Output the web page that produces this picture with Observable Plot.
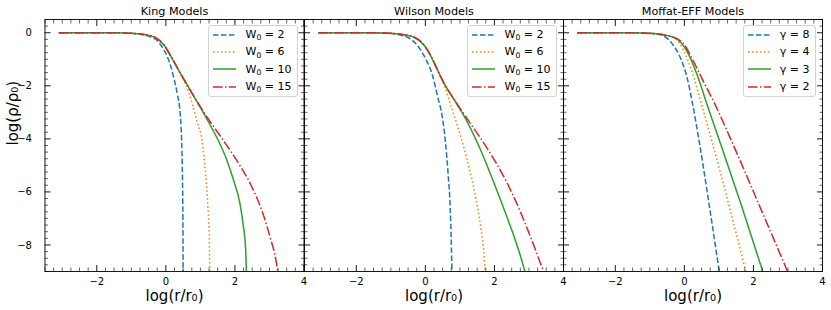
<!DOCTYPE html>
<html>
<head>
<meta charset="utf-8">
<script src="https://cdn.jsdelivr.net/npm/d3@7"></script>
<script src="https://cdn.jsdelivr.net/npm/@observablehq/plot@0.6"></script>
<style>
  body { margin: 0; background: #fff; }
  #chart { position: relative; width: 831px; height: 310px; font-family: "DejaVu Sans", sans-serif; overflow: hidden; }
  #chart svg.panel { position: absolute; top: 0; }
  .legend { position: absolute; top: 25px; background: rgba(255,255,255,0.8); border: 1px solid #d3d3d3; border-radius: 3px;
            font-size: 11px; padding: 0 5px 1px 4px; color: #000; }
  .legend .row { display: flex; align-items: center; height: 17.3px; white-space: nowrap; }
  .legend svg { display: block; margin-right: 9px; }
  .legend sub { font-size: 0.7em; vertical-align: baseline; position: relative; top: 0.3em; line-height: 0; }
</style>
</head>
<body>
<div id="chart"></div>
<script>
// ---------- data ----------
const panelTitles = ["King Models", "Wilson Models", "Moffat-EFF Models"];
const kingParams = [2, 6, 10, 15];     // W0
const wilsonParams = [2, 6, 10, 15];   // W0
const moffatParams = [8, 4, 3, 2];     // gamma

const xMajorTicks = [-2, 0, 2, 4];
const xTickLabels = ["−2", "0", "2", "4"];
const yMajorTicks = [0, -2, -4, -6, -8];
const yTickLabels = ["0", "−2", "−4", "−6", "−8"];
const xDomain = [-3.5, 4];
const yDomain = [-9, 0.5];

// King models  [log(r/r0), log(rho/rho0)]
const king_W2 = [[-3.1,0],[-1.5,0],[-1.0,-0.02],[-0.7,-0.07],[-0.45,-0.15],[-0.25,-0.3],[-0.1,-0.55],[0.05,-0.92],[0.15,-1.3],[0.23,-1.7],[0.33,-2.3],[0.41,-3.0],[0.455,-4.0],[0.475,-5.0],[0.49,-6.5],[0.5,-9]];
const king_W6 = [[-3.1,0],[-1.5,0],[-1.0,-0.02],[-0.6,-0.07],[-0.3,-0.18],[-0.06,-0.45],[0.18,-0.97],[0.4,-1.5],[0.57,-1.95],[0.77,-2.7],[0.91,-3.39],[1.05,-4.09],[1.15,-5.35],[1.22,-6.62],[1.26,-7.88],[1.27,-9]];
const king_W10 = [[-3.1,0],[-1.5,0],[-1.0,-0.02],[-0.6,-0.07],[-0.3,-0.18],[-0.06,-0.45],[0.18,-0.97],[0.43,-1.55],[0.7,-2.15],[0.9,-2.6],[1.1,-3.05],[1.3,-3.52],[1.54,-4.12],[1.78,-4.85],[1.97,-5.6],[2.14,-6.4],[2.24,-7.25],[2.31,-8.14],[2.33,-9]];
const king_W15 = [[-3.1,0],[-1.5,0],[-1.0,-0.02],[-0.6,-0.07],[-0.3,-0.18],[-0.06,-0.45],[0.18,-0.97],[0.43,-1.55],[0.7,-2.15],[0.9,-2.58],[1.1,-3.0],[1.39,-3.55],[1.68,-4.09],[2.07,-4.85],[2.46,-5.73],[2.79,-6.74],[3.03,-7.76],[3.18,-8.52],[3.24,-9]];

// Wilson models
const wilson_W2 = [[-3.1,0],[-1.5,0],[-1.0,-0.03],[-0.75,-0.08],[-0.52,-0.17],[-0.23,-0.48],[0.01,-0.99],[0.21,-1.62],[0.35,-2.38],[0.5,-3.26],[0.58,-4.1],[0.66,-5.35],[0.72,-6.62],[0.75,-7.88],[0.77,-9]];
const wilson_W6 = [[-3.1,0],[-1.5,0],[-1.0,-0.02],[-0.6,-0.08],[-0.32,-0.17],[-0.03,-0.48],[0.16,-0.88],[0.35,-1.4],[0.55,-2.0],[0.74,-2.76],[0.93,-3.52],[1.1,-4.25],[1.27,-5.1],[1.46,-6.24],[1.61,-7.38],[1.7,-8.39],[1.73,-9]];
const wilson_W10 = [[-3.1,0],[-1.5,0],[-1.0,-0.02],[-0.6,-0.08],[-0.32,-0.17],[-0.03,-0.48],[0.16,-0.88],[0.35,-1.4],[0.55,-1.93],[0.8,-2.45],[1.0,-2.88],[1.2,-3.33],[1.4,-3.85],[1.6,-4.42],[1.8,-5.05],[2.0,-5.7],[2.2,-6.38],[2.4,-7.08],[2.6,-7.8],[2.75,-8.4],[2.88,-9]];
const wilson_W15 = [[-3.1,0],[-1.5,0],[-1.0,-0.02],[-0.6,-0.08],[-0.32,-0.17],[-0.03,-0.48],[0.16,-0.88],[0.35,-1.4],[0.55,-1.93],[0.8,-2.45],[1.0,-2.84],[1.2,-3.22],[1.4,-3.6],[1.6,-3.98],[1.8,-4.38],[2.0,-4.8],[2.2,-5.25],[2.4,-5.75],[2.6,-6.3],[2.8,-6.9],[3.0,-7.55],[3.2,-8.22],[3.35,-8.75],[3.43,-9]];

// Moffat-EFF models
const moffat_g8 = [[-3.1,0],[-1.5,0],[-1.0,-0.02],[-0.64,-0.1],[-0.35,-0.42],[-0.1,-0.99],[0.09,-1.75],[0.23,-2.63],[0.43,-4.1],[0.72,-6.5],[1.01,-9]];
const moffat_g4 = [[-3.1,0],[-1.5,0],[-1.0,-0.02],[-0.6,-0.08],[-0.25,-0.23],[0,-0.74],[0.23,-1.5],[0.48,-2.63],[0.8,-4.1],[1.3,-6.55],[1.78,-9]];
const moffat_g3 = [[-3.1,0],[-1.5,0],[-1.0,-0.02],[-0.6,-0.08],[-0.2,-0.25],[0.14,-0.86],[0.38,-1.62],[0.67,-2.76],[1.03,-4.12],[1.65,-6.5],[2.27,-9]];
const moffat_g2 = [[-3.1,0],[-1.5,0],[-1.0,-0.03],[-0.5,-0.1],[-0.06,-0.36],[0.23,-0.99],[0.52,-1.75],[0.91,-2.76],[1.4,-4.18],[2.2,-6.6],[2.99,-9]];

// ---------- styling ----------
const seriesColors = ["#1f77b4", "#ff7f0e", "#2ca02c", "#d62728"];
const seriesDashes = ["5.55,2.4", "1.5,2.475", null, "9.6,2.4,1.5,2.4"];

const panels = [
  {title: panelTitles[0], series: [king_W2, king_W6, king_W10, king_W15], labels: kingParams.map(v => `W<sub>0</sub> = ${v}`)},
  {title: panelTitles[1], series: [wilson_W2, wilson_W6, wilson_W10, wilson_W15], labels: wilsonParams.map(v => `W<sub>0</sub> = ${v}`)},
  {title: panelTitles[2], series: [moffat_g8, moffat_g4, moffat_g3, moffat_g2], labels: moffatParams.map(v => `γ = ${v}`)}
];

const xMinorTicks = d3.range(-3.5, 4.001, 0.25).filter(v => Math.abs(v / 2 - Math.round(v / 2)) > 1e-6);
const yMinorTicks = d3.range(-9, 0.501, 0.25).filter(v => Math.abs(v / 2 - Math.round(v / 2)) > 1e-6);

const chart = document.getElementById("chart");
const frameLefts = [44.5, 303.5, 562.5];
const frameW = 259;
const H = 310, mt = 19, mb = 39;
const blank = () => "";

panels.forEach((p, i) => {
  const ml = i === 0 ? 44.5 : 12;
  const mr = i === 2 ? 9.5 : 12;
  const marks = [];
  p.series.forEach((s, k) => {
    marks.push(Plot.line(s, {x: d => d[0], y: d => d[1], stroke: seriesColors[k], strokeWidth: 1.5,
      strokeDasharray: seriesDashes[k] || undefined, strokeLinecap: "butt", curve: "monotone-x", clip: true}));
  });
  marks.push(Plot.frame({stroke: "#000", strokeWidth: 0.9}));
  // x axes (ticks pointing inward)
  marks.push(Plot.axisX(xMajorTicks, {anchor: "bottom", tickSize: -6, tickPadding: 12, fontSize: 10, label: null, strokeWidth: 0.9,
    tickFormat: d => xTickLabels[xMajorTicks.indexOf(d)]}));
  marks.push(Plot.axisX(xMajorTicks, {anchor: "top", tickSize: -6, tickFormat: blank, label: null, strokeWidth: 0.9}));
  marks.push(Plot.axisX(xMinorTicks, {anchor: "bottom", tickSize: -3.5, tickFormat: blank, label: null, strokeWidth: 0.6}));
  marks.push(Plot.axisX(xMinorTicks, {anchor: "top", tickSize: -3.5, tickFormat: blank, label: null, strokeWidth: 0.6}));
  // y axes
  marks.push(Plot.axisY(yMajorTicks, {anchor: "left", tickSize: -6, tickFormat: blank, label: null, strokeWidth: 0.9}));
  marks.push(Plot.axisY(yMajorTicks, {anchor: "right", tickSize: -6, tickFormat: blank, label: null, strokeWidth: 0.9}));
  marks.push(Plot.axisY(yMinorTicks, {anchor: "left", tickSize: -3.5, tickFormat: blank, label: null, strokeWidth: 0.6}));
  marks.push(Plot.axisY(yMinorTicks, {anchor: "right", tickSize: -3.5, tickFormat: blank, label: null, strokeWidth: 0.6}));
  if (i === 0) {
    // y tick labels, centred on where a right-aligned matplotlib label would sit
    const zeroIdx = yMajorTicks.filter(v => v === 0);
    const negIdx = yMajorTicks.filter(v => v !== 0);
    marks.push(Plot.text(zeroIdx, {y: d => d, text: d => yTickLabels[yMajorTicks.indexOf(d)], frameAnchor: "left", dx: -16.2, dy: 3.55,
      textAnchor: "middle", lineAnchor: "bottom", fontSize: 10, fill: "#000"}));
    marks.push(Plot.text(negIdx, {y: d => d, text: d => yTickLabels[yMajorTicks.indexOf(d)], frameAnchor: "left", dx: -20.4, dy: 3.55,
      textAnchor: "middle", lineAnchor: "bottom", fontSize: 10, fill: "#000"}));
  }
  // title and axis labels
  marks.push(Plot.text([p.title], {text: d => d, frameAnchor: "top", dy: -8, fontSize: 11.2, lineAnchor: "middle"}));
  marks.push(Plot.text(["log(r/r₀)"], {text: d => d, frameAnchor: "bottom", dy: 25, fontSize: 15, lineAnchor: "middle"}));
  if (i === 0) {
    marks.push(Plot.text(["log(ρ/ρ₀)"], {text: d => d, frameAnchor: "left", dx: -32, rotate: -90, fontSize: 15, lineAnchor: "middle"}));
  }
  const svg = Plot.plot({
    width: ml + frameW + mr, height: H,
    marginLeft: ml, marginRight: mr, marginTop: mt, marginBottom: mb,
    x: {domain: xDomain}, y: {domain: yDomain},
    style: {background: "none", overflow: "visible", fontFamily: "DejaVu Sans", fontSize: "10px", color: "#000"},
    marks
  });
  svg.classList.add("panel");
  svg.style.left = (frameLefts[i] - ml) + "px";
  chart.appendChild(svg);

  // legend
  const lg = document.createElement("div");
  lg.className = "legend";
  const frameRight = frameLefts[i] + frameW;
  lg.style.right = (831 - (frameRight - 6)) + "px";
  p.labels.forEach((lab, k) => {
    const row = document.createElement("div");
    row.className = "row";
    const dash = seriesDashes[k] ? ` stroke-dasharray="${seriesDashes[k]}"` : "";
    row.innerHTML = `<svg width="23" height="8"><line x1="0" y1="4" x2="23" y2="4" stroke="${seriesColors[k]}" stroke-width="1.5"${dash}/></svg><span>${lab}</span>`;
    lg.appendChild(row);
  });
  chart.appendChild(lg);
});
</script>
</body>
</html>
